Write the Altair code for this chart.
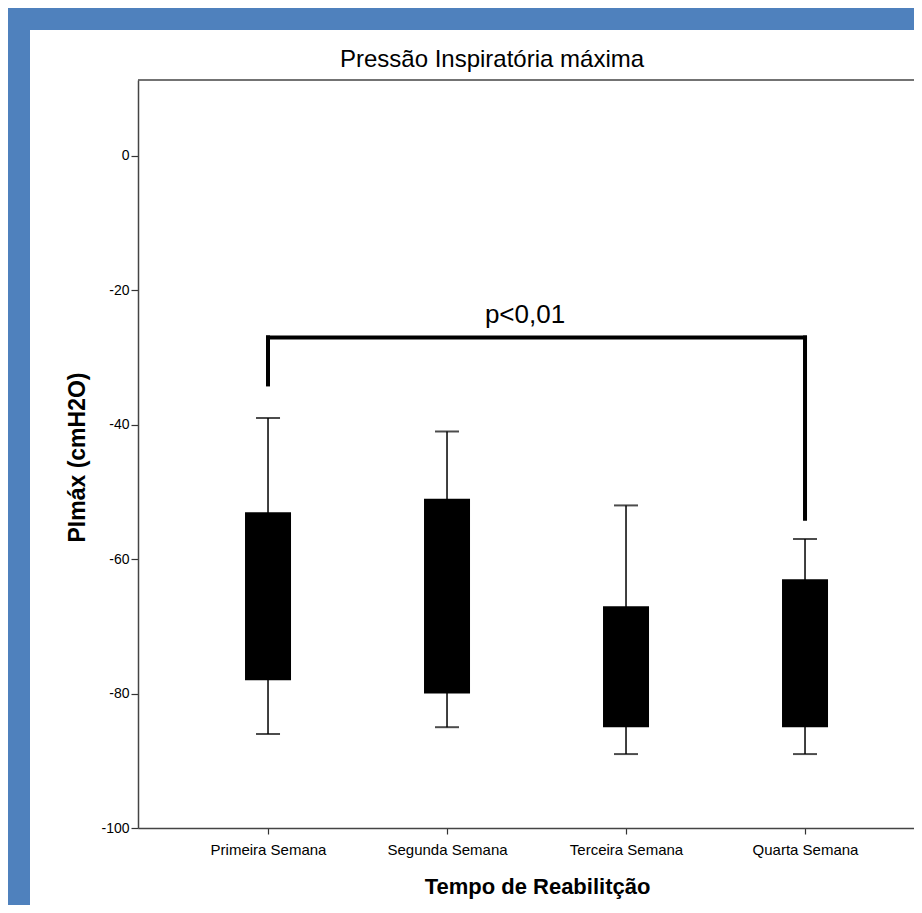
import altair as alt
import pandas as pd

# ---- data ----
weeks = ["Primeira Semana", "Segunda Semana", "Terceira Semana", "Quarta Semana"]
whisker_high = [-39, -41, -52, -57]
box_high = [-53, -51, -67, -63]
box_low = [-78, -80, -85, -85]
whisker_low = [-86, -85, -89, -89]

bracket_left = "Primeira Semana"
bracket_right = "Quarta Semana"
bracket_level = -27
bracket_ends = [-34, -54]
p_label = "p<0,01"
p_label_y = -23.7

y_ticks = [0, -20, -40, -60, -80, -100]
y_domain = [-100, 11.3]
chart_title = "Pressão Inspiratória máxima"

# ---- tables ----
df = pd.DataFrame({
    "week": weeks,
    "wh": whisker_high,
    "bh": box_high,
    "bl": box_low,
    "wl": whisker_low,
})
caps = pd.DataFrame({
    "week": weeks + weeks,
    "v": whisker_high + whisker_low,
})
brk_h = pd.DataFrame({"a": [bracket_left], "b": [bracket_right], "y": [bracket_level]})
brk_v = pd.DataFrame({
    "week": [bracket_left, bracket_right],
    "y": [bracket_level, bracket_level],
    "y2": bracket_ends,
})
lab = pd.DataFrame({"week": ["Segunda Semana"], "y": [p_label_y], "t": [p_label]})
one = pd.DataFrame({"k": [0]})
ttl = pd.DataFrame({"t": [chart_title]})

W, H = 776, 748
FONT = "Liberation Sans"

xscale = alt.Scale(type="point", domain=weeks, padding=0.6676, align=0.544)
yscale = alt.Scale(domain=y_domain, nice=False, zero=False)

xaxis = alt.Axis(
    title="Tempo de Reabilitção", labelAngle=0, labelFont=FONT, labelFontSize=15,
    labelColor="black", tickSize=6, tickColor="#333", tickWidth=1.2, labelPadding=8,
    domainColor="#444", domainWidth=1.5, titleFont=FONT, titleFontSize=22,
    titleFontWeight="bold", titleColor="black", titlePadding=19, titleX=399, zindex=1,
)
yaxis = alt.Axis(
    title="PImáx (cmH2O)", values=y_ticks, grid=False, labelFont=FONT, labelFontSize=14,
    labelColor="black", tickSize=7, tickColor="#333", tickWidth=1.2, labelPadding=2,
    labelExpr="'' + datum.value",
    domainColor="#444", domainWidth=1.5, titleFont=FONT, titleFontSize=23,
    titleFontWeight="bold", titleColor="black", titlePadding=11, titleY=377, zindex=1,
)

x = alt.X("week:O", scale=xscale, axis=xaxis, sort=weeks)
y_enc = lambda f: alt.Y(f, type="quantitative", scale=yscale, axis=yaxis)

panel = alt.Chart(one).mark_rect(color="white").encode(
    x=alt.value(-108), x2=alt.value(W + 20), y=alt.value(-50), y2=alt.value(H + 90)
)

title_mark = alt.Chart(ttl).mark_text(
    font=FONT, fontSize=24, color="black", baseline="middle", align="center"
).encode(x=alt.value(354), y=alt.value(-20), text="t")

top_border = alt.Chart(one).mark_rule(color="#444", strokeWidth=1.5).encode(
    x=alt.value(0), x2=alt.value(W), y=alt.value(0)
)

whisk = alt.Chart(df).mark_rule(color="black", strokeWidth=1.5).encode(
    x=x, y=y_enc("wl"), y2="wh"
)
boxes = alt.Chart(df).mark_bar(color="black", size=46).encode(
    x=x, y=y_enc("bl"), y2="bh"
)
cap = alt.Chart(caps).mark_tick(color="black", size=24, thickness=2).encode(
    x=x, y=y_enc("v")
)
bh = alt.Chart(brk_h).mark_rule(color="black", strokeWidth=4, strokeCap="square").encode(
    x=alt.X("a:O", scale=xscale, axis=xaxis), x2="b", y=y_enc("y")
)
bv = alt.Chart(brk_v).mark_rule(color="black", strokeWidth=4, strokeCap="square").encode(
    x=x, y=y_enc("y"), y2="y2"
)
txt = alt.Chart(lab).mark_text(font=FONT, fontSize=26, color="black", dx=78).encode(
    x=x, y=y_enc("y"), text="t"
)

chart = alt.layer(panel, title_mark, top_border, whisk, boxes, cap, bh, bv, txt).properties(
    width=W, height=H,
    autosize=alt.AutoSizeParams(type="none"),
    padding={"left": 130, "top": 72, "right": 0, "bottom": 77},
    background="#4F81BD",
).configure_view(stroke=None)

chart.save("out.html", embed_options={"renderer": "svg", "actions": False})
